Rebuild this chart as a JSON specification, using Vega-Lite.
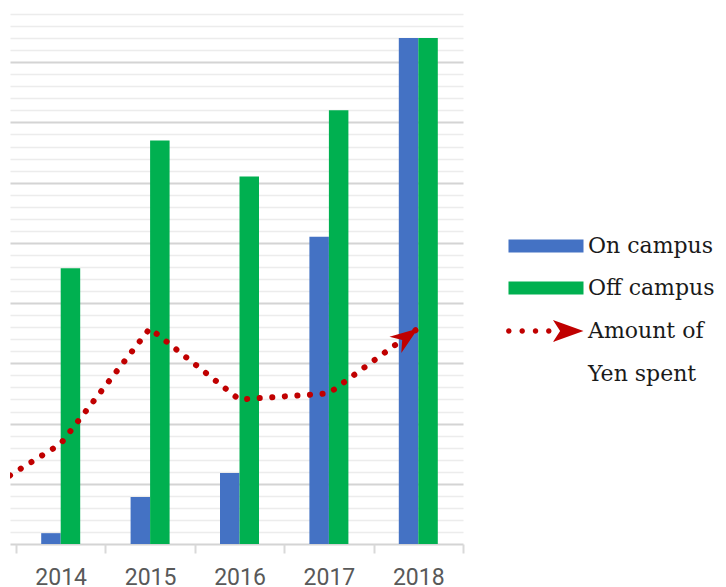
{
  "$schema": "https://vega.github.io/schema/vega-lite/v6.json",
  "width": 453,
  "height": 530,
  "autosize": {"type": "none"},
  "padding": {"left": 10, "top": 14, "right": 263, "bottom": 43},
  "background": "white",
  "config": {"view": {"stroke": null}},
  "datasets": {
    "bars": [
      {"year": "2014", "series": "On campus", "value": 0.9},
      {"year": "2014", "series": "Off campus", "value": 22.9},
      {"year": "2015", "series": "On campus", "value": 3.9},
      {"year": "2015", "series": "Off campus", "value": 33.5},
      {"year": "2016", "series": "On campus", "value": 5.9},
      {"year": "2016", "series": "Off campus", "value": 30.5},
      {"year": "2017", "series": "On campus", "value": 25.5},
      {"year": "2017", "series": "Off campus", "value": 36.0},
      {"year": "2018", "series": "On campus", "value": 42.0},
      {"year": "2018", "series": "Off campus", "value": 42.0}
    ],
    "yen": [
      {"yr": 2013.436, "v": 5.7},
      {"yr": 2014, "v": 8.3},
      {"yr": 2015, "v": 17.9},
      {"yr": 2016, "v": 12.0},
      {"yr": 2017, "v": 12.5},
      {"yr": 2018, "v": 17.9}
    ]
  },
  "layer": [
    {
      "data": {"name": "yen"},
      "mark": {"type": "point", "opacity": 0},
      "encoding": {
        "x": {"field": "yr", "type": "quantitative", "scale": {"domain": [2013.436, 2018.503], "nice": false, "zero": false}, "axis": null},
        "y": {
          "field": "v", "type": "quantitative",
          "scale": {"domain": [0, 44], "nice": false, "zero": true},
          "axis": {
            "title": null, "labels": false, "ticks": false, "domain": false, "grid": true,
            "values": [0,1,2,3,4,5,6,7,8,9,10,11,12,13,14,15,16,17,18,19,20,21,22,23,24,25,26,27,28,29,30,31,32,33,34,35,36,37,38,39,40,41,42,43,44],
            "gridColor": {"condition": {"test": "datum.value % 5 === 0", "value": "#d4d4d4"}, "value": "#ececec"},
            "gridWidth": {"condition": {"test": "datum.value % 5 === 0", "value": 2}, "value": 1.6}
          }
        }
      }
    },
    {
      "data": {"name": "bars"},
      "encoding": {
        "x": {
          "field": "year", "type": "nominal", "sort": null,
          "scale": {"range": [6, 453], "paddingInner": 0, "paddingOuter": 0},
          "axis": {
            "title": null, "domain": false, "grid": false, "ticks": true, "tickBand": "extent",
            "tickColor": "#d9d9d9", "tickWidth": 2, "tickSize": 9, "labelAngle": 0,
            "labelFont": "Roboto", "labelFontSize": 23, "labelColor": "#595959", "labelPadding": 13
          }
        },
        "xOffset": {"field": "series", "type": "nominal", "scale": {"domain": ["On campus", "Off campus"], "range": [25.2, 64.2], "paddingInner": 0, "paddingOuter": 0}},
        "y": {
          "field": "value", "type": "quantitative",
          "axis": {
            "title": null, "labels": false, "ticks": false, "domain": false, "grid": true,
            "values": [0,1,2,3,4,5,6,7,8,9,10,11,12,13,14,15,16,17,18,19,20,21,22,23,24,25,26,27,28,29,30,31,32,33,34,35,36,37,38,39,40,41,42,43,44],
            "gridColor": {"condition": {"test": "datum.value % 5 === 0", "value": "#d4d4d4"}, "value": "#ececec"},
            "gridWidth": {"condition": {"test": "datum.value % 5 === 0", "value": 2}, "value": 1.6}
          }
        }
      },
      "layer": [
        {
          "mark": {"type": "bar"},
          "encoding": {
            "color": {
              "field": "series", "type": "nominal",
              "scale": {"domain": ["On campus", "Off campus", "Amount of", "Yen spent"], "range": ["#4472C4", "#00B050", "#C00000", "transparent"]},
              "legend": {"orient": "none", "legendX": 556, "legendY": 221, "title": null, "symbolSize": 169, "labelFont": "DejaVu Serif", "labelFontSize": 22, "labelColor": "#1a1a1a", "labelOffset": 0, "rowPadding": 20, "symbolStrokeWidth": 0, "symbolOpacity": 1, "padding": 0}
            }
          }
        },
        {
          "mark": {"type": "point", "filled": true, "opacity": 0},
          "encoding": {
            "color": {
              "field": "series", "type": "nominal",
              "legend": {"orient": "none", "legendX": 556, "legendY": 221, "title": null, "symbolSize": 169, "labelFont": "DejaVu Serif", "labelFontSize": 22, "labelColor": "#1a1a1a", "labelOffset": 0, "rowPadding": 20, "symbolStrokeWidth": 0, "symbolOpacity": 1, "padding": 0}
            },
            "shape": {
              "field": "series", "type": "nominal",
              "scale": {
                "domain": ["On campus", "Off campus", "Amount of", "Yen spent"],
                "range": [
                  "M-10.54,-1H1V1H-10.54Z",
                  "M-10.54,-1H1V1H-10.54Z",
                  "M-10.91,0A0.42,0.42 0 1,0 -10.07,0A0.42,0.42 0 1,0 -10.91,0Z M-8.85,0A0.42,0.42 0 1,0 -8.01,0A0.42,0.42 0 1,0 -8.85,0Z M-6.8,0A0.42,0.42 0 1,0 -5.96,0A0.42,0.42 0 1,0 -6.8,0Z M-4.76,0A0.42,0.42 0 1,0 -3.92,0A0.42,0.42 0 1,0 -4.76,0Z M1,0L-3.7,-1.7L-2.6,0L-3.7,1.7Z",
                  "M0,0L0.01,0L0,0.01Z"
                ]
              },
              "legend": {"orient": "none", "legendX": 556, "legendY": 221, "title": null, "symbolSize": 169, "labelFont": "DejaVu Serif", "labelFontSize": 22, "labelColor": "#1a1a1a", "labelOffset": 0, "rowPadding": 20, "symbolStrokeWidth": 0, "symbolOpacity": 1, "padding": 0}
            }
          }
        }
      ]
    },
    {
      "data": {"name": "yen"},
      "encoding": {
        "x": {"field": "yr", "type": "quantitative", "scale": {"domain": [2013.436, 2018.503], "nice": false, "zero": false}, "axis": null},
        "y": {
          "field": "v", "type": "quantitative",
          "axis": {
            "title": null, "labels": false, "ticks": false, "domain": false, "grid": true,
            "values": [0,1,2,3,4,5,6,7,8,9,10,11,12,13,14,15,16,17,18,19,20,21,22,23,24,25,26,27,28,29,30,31,32,33,34,35,36,37,38,39,40,41,42,43,44],
            "gridColor": {"condition": {"test": "datum.value % 5 === 0", "value": "#d4d4d4"}, "value": "#ececec"},
            "gridWidth": {"condition": {"test": "datum.value % 5 === 0", "value": 2}, "value": 1.6}
          }
        }
      },
      "layer": [
        {
          "mark": {"type": "line", "color": "#C00000", "strokeWidth": 6, "strokeDash": [0.1, 12.5], "strokeCap": "round", "clip": true}
        },
        {
          "transform": [{"filter": "datum.yr == 2018"}],
          "mark": {"type": "point", "filled": true, "color": "#C00000", "opacity": 1, "shape": "M0,0L-1,-0.36L-0.7,0L-1,0.36Z", "size": 3136, "angle": 324}
        }
      ]
    }
  ],
  "resolve": {"scale": {"x": "independent"}}
}
